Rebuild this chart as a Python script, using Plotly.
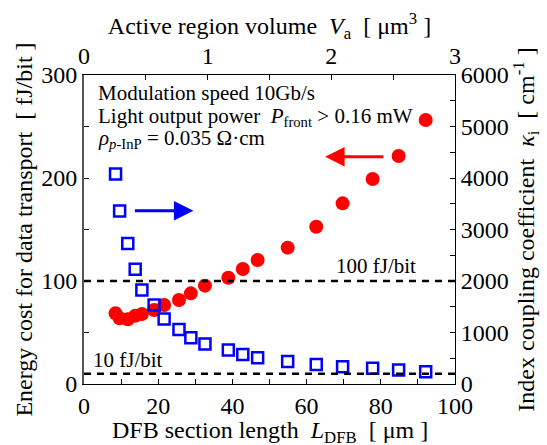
import plotly.graph_objects as go

# DFB section length [um]
L_dfb = [8.5, 9.6, 11.8, 13.8, 15.6, 18.9, 21.6, 25.6, 28.8, 32.6,
         38.9, 42.8, 46.8, 54.9, 62.6, 69.7, 77.8, 84.8, 92.1]
# Energy cost for data transport [fJ/bit]
energy = [68.6, 63.8, 62.8, 66.3, 68.0, 71.8, 76.7, 81.6, 88.0, 95.5,
          103.2, 111.6, 120.4, 132.4, 152.7, 175.4, 199.0, 221.4, 256.3]
# Index coupling coefficient [cm^-1]
kappa = [4080, 3360, 2730, 2230, 1825, 1535, 1260, 1060, 900, 775,
         660, 575, 510, 435, 380, 335, 305, 270, 240]

# Active region volume axis range [um^3]
va_range = [0, 3]
# Reference energy levels [fJ/bit]
ref_levels = [100, 10]
ref_labels = ["100 fJ/bit", "10 fJ/bit"]

FONT = "Liberation Serif, DejaVu Serif, Times New Roman, serif"
RED = "#ff0000"
BLUE = "#0000ff"

fig = go.Figure()

fig.add_trace(go.Scatter(
    x=L_dfb, y=energy, mode="markers",
    marker=dict(symbol="circle", size=14, color=RED),
    xaxis="x", yaxis="y", showlegend=False))

fig.add_trace(go.Scatter(
    x=L_dfb, y=kappa, mode="markers",
    marker=dict(symbol="square-open", size=11, color=BLUE,
                line=dict(width=2.5, color=BLUE)),
    xaxis="x", yaxis="y2", showlegend=False))

# invisible trace to carry the top (volume) axis
fig.add_trace(go.Scatter(
    x=va_range, y=[0, 0], mode="markers", marker=dict(opacity=0),
    xaxis="x2", yaxis="y", showlegend=False, hoverinfo="skip"))

axis_common = dict(
    showgrid=False, zeroline=False, showline=True, linecolor="black",
    linewidth=1, ticks="inside", ticklen=5, tickcolor="black", automargin=False,
    tickfont=dict(family=FONT, size=24, color="black"),
)

fig.update_layout(
    width=547, height=445,
    margin=dict(l=84, r=92, t=75, b=61),
    paper_bgcolor="white", plot_bgcolor="white",
    font=dict(family=FONT, size=24, color="black"),
    xaxis=dict(
        range=[0, 100], dtick=20,
        minor=dict(dtick=10, ticks="inside", ticklen=5, tickcolor="black"),
        **axis_common),
    xaxis2=dict(
        range=va_range, dtick=1, overlaying="x", side="top",
        minor=dict(dtick=0.5, ticks="inside", ticklen=5, tickcolor="black"),
        title=dict(text="Active region volume  <i>V</i><sub>a</sub>  [ μm<sup>3</sup> ]",
                   font=dict(family=FONT, size=24), standoff=0),
        **axis_common),
    yaxis=dict(
        range=[0, 300], dtick=100,
        minor=dict(dtick=50, ticks="inside", ticklen=5, tickcolor="black"),
        title=dict(text="Energy cost for data transport  [ fJ/bit ]",
                   font=dict(family=FONT, size=24), standoff=2),
        **{**axis_common, "linecolor": "#555555", "linewidth": 2}),
    yaxis2=dict(
        range=[0, 6000], dtick=1000, overlaying="y", side="right",
        minor=dict(dtick=500, ticks="inside", ticklen=5, tickcolor="black"),
        title=dict(text="Index coupling coefficient  <i>κ</i><sub>i</sub>  [ cm<sup>-1</sup> ]",
                   font=dict(family=FONT, size=24), standoff=4),
        **axis_common),
)

# bottom axis title, placed below the tick labels
fig.add_annotation(x=0.5, xref="paper", y=-0.156, yref="paper",
                   text="DFB section length  <i>L</i><sub>DFB</sub>  [ μm ]",
                   showarrow=False, xanchor="center", yanchor="middle",
                   font=dict(family=FONT, size=24))

# dashed reference levels
for lvl in ref_levels:
    fig.add_shape(type="line", xref="paper", x0=0, x1=1, yref="y", y0=lvl, y1=lvl,
                  line=dict(color="black", width=2.5, dash="7px,6px"))

fig.add_annotation(x=0.90, xref="paper", y=ref_levels[0], yref="y", yshift=15,
                   text=ref_labels[0], showarrow=False, xanchor="right",
                   font=dict(family=FONT, size=21))
fig.add_annotation(x=0.02, xref="paper", y=ref_levels[1], yref="y", yshift=14,
                   text=ref_labels[1], showarrow=False, xanchor="left",
                   font=dict(family=FONT, size=21))

# condition text block
notes = [
    "Modulation speed 10Gb/s",
    "Light output power  <i>P</i><sub>front</sub> > 0.16 mW",
    "<i>ρ</i><sub><i>p</i>-InP</sub> = 0.035 Ω·cm",
]
note_y = [0.942, 0.863, 0.793]
for t, yy in zip(notes, note_y):
    fig.add_annotation(x=0.033, xref="paper", y=yy, yref="paper", text=t,
                       showarrow=False, xanchor="left", yanchor="middle",
                       font=dict(family=FONT, size=21))

# arrows pointing to each series' axis
fig.add_annotation(x=65.0, y=220.7, xref="x", yref="y",
                   ax=81.1, ay=220.7, axref="x", ayref="y",
                   text="", showarrow=True, arrowhead=2, arrowsize=1.3,
                   arrowwidth=3, arrowcolor=RED)
fig.add_annotation(x=29.5, y=3366, xref="x", yref="y2",
                   ax=13.3, ay=3366, axref="x", ayref="y2",
                   text="", showarrow=True, arrowhead=2, arrowsize=1.3,
                   arrowwidth=3, arrowcolor=BLUE)

fig.write_html("out.html")
